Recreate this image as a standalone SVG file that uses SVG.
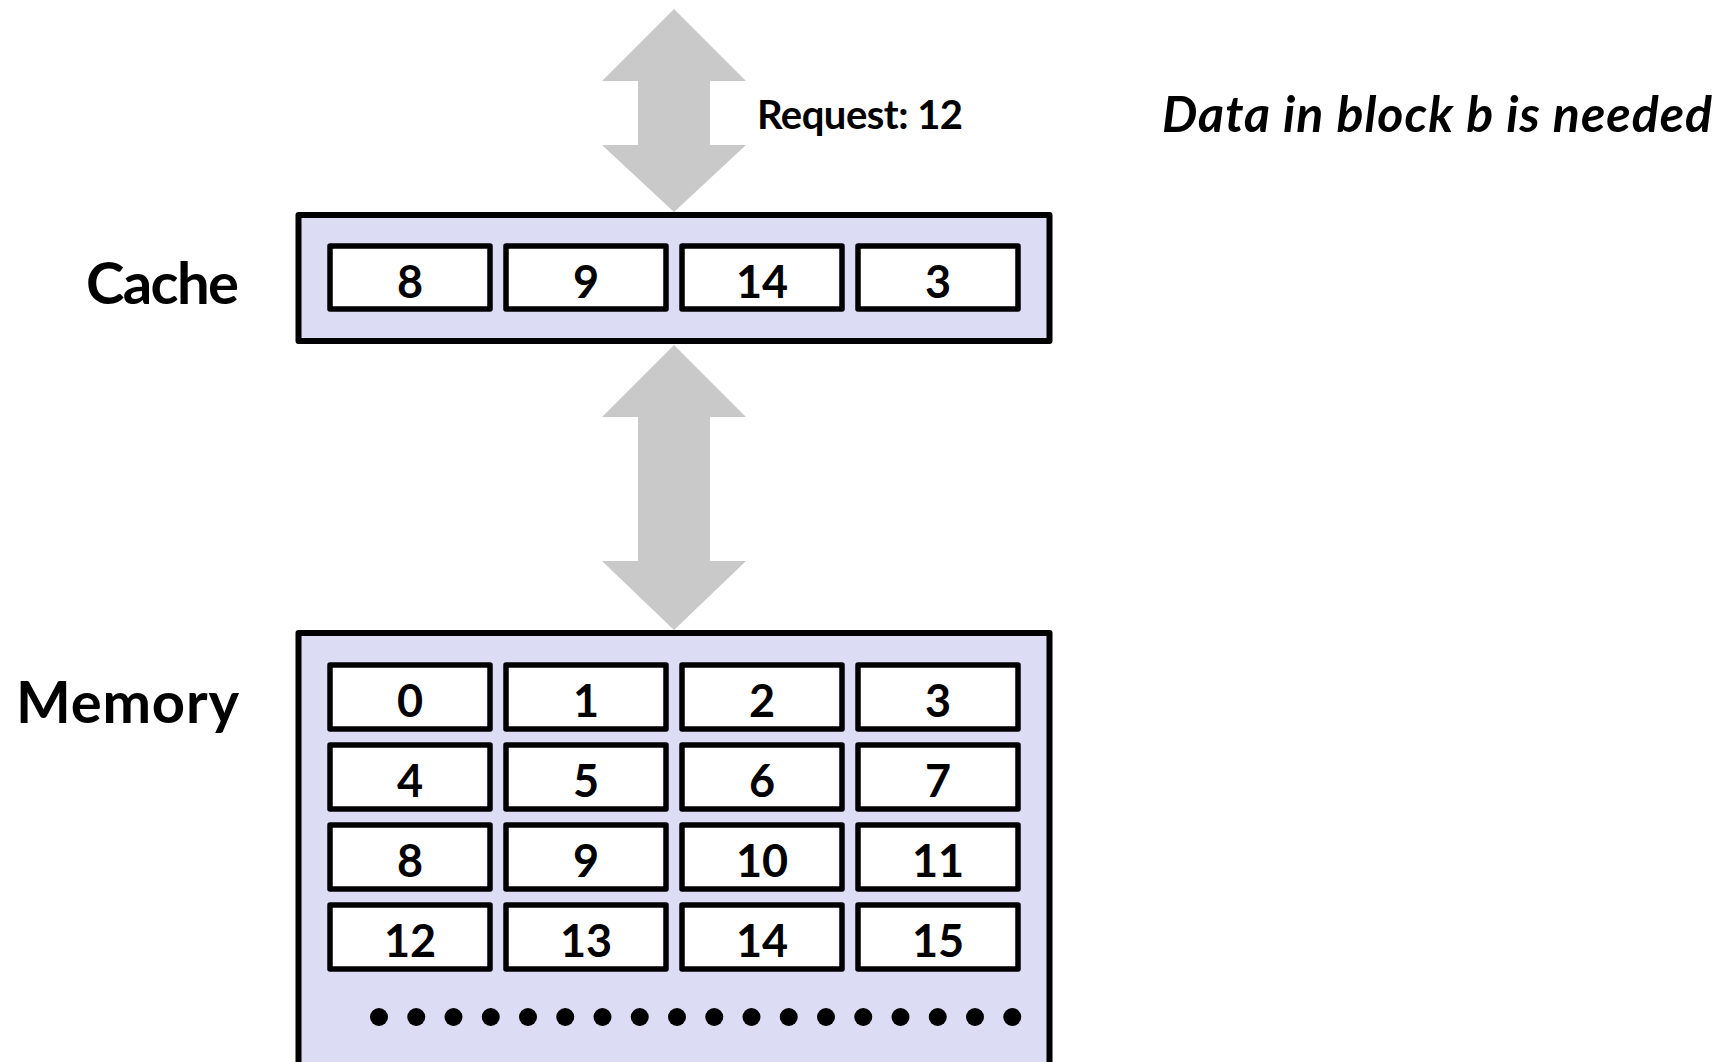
<svg xmlns="http://www.w3.org/2000/svg" width="1730" height="1062" viewBox="0 0 1730 1062">
<style>
.box{fill:#dcdcf4;stroke:#000;stroke-width:6;stroke-linejoin:round}
.cell{fill:#fff;stroke:#000;stroke-width:5.5;stroke-linejoin:round}
.num{font-family:Lato,"Liberation Sans",sans-serif;font-weight:bold;font-size:45px;text-anchor:middle;fill:#000}
.lbl{font-family:Lato,"Liberation Sans",sans-serif;font-weight:bold;font-size:58px;text-anchor:end;fill:#000}
.arrow{fill:#c9c9c9}
.dot{fill:#000}
</style>
<rect width="1730" height="1062" fill="#fff"/>
<g id="connectors">
<polygon class="arrow" points="674,9 746,81 710,81 710,145 746,145 674,212 602,145 638,145 638,81 602,81"/>
<polygon class="arrow" points="674,345 746,417 710,417 710,561 746,561 674,630 602,561 638,561 638,417 602,417"/>
</g>
<g id="request-label">
<text x="757" y="129" font-family="Lato,'Liberation Sans',sans-serif" font-weight="bold" font-size="40" textLength="206">Request: 12</text>
</g>
<g id="note">
<text x="1162" y="132" font-family="Lato,'Liberation Sans',sans-serif" font-weight="bold" font-style="italic" font-size="50" textLength="550">Data in block b is needed</text>
</g>
<g id="cache">
<text class="lbl" x="239" y="304" textLength="153">Cache</text>
<rect class="box" x="298.5" y="215" width="751" height="126"/>
<rect class="cell" x="330" y="246" width="160" height="63"/>
<rect class="cell" x="506" y="246" width="160" height="63"/>
<rect class="cell" x="682" y="246" width="160" height="63"/>
<rect class="cell" x="858" y="246" width="160" height="63"/>
<text class="num" x="410" y="298">8</text>
<text class="num" x="586" y="298">9</text>
<text class="num" x="762" y="298">14</text>
<text class="num" x="938" y="298">3</text>
</g>
<g id="memory">
<text class="lbl" x="239" y="723" textLength="223">Memory</text>
<rect class="box" x="298.5" y="633" width="751" height="500"/>
<rect class="cell" x="330" y="665" width="160" height="64"/>
<rect class="cell" x="506" y="665" width="160" height="64"/>
<rect class="cell" x="682" y="665" width="160" height="64"/>
<rect class="cell" x="858" y="665" width="160" height="64"/>
<rect class="cell" x="330" y="745" width="160" height="64"/>
<rect class="cell" x="506" y="745" width="160" height="64"/>
<rect class="cell" x="682" y="745" width="160" height="64"/>
<rect class="cell" x="858" y="745" width="160" height="64"/>
<rect class="cell" x="330" y="825" width="160" height="64"/>
<rect class="cell" x="506" y="825" width="160" height="64"/>
<rect class="cell" x="682" y="825" width="160" height="64"/>
<rect class="cell" x="858" y="825" width="160" height="64"/>
<rect class="cell" x="330" y="905" width="160" height="64"/>
<rect class="cell" x="506" y="905" width="160" height="64"/>
<rect class="cell" x="682" y="905" width="160" height="64"/>
<rect class="cell" x="858" y="905" width="160" height="64"/>
<text class="num" x="410" y="717">0</text>
<text class="num" x="586" y="717">1</text>
<text class="num" x="762" y="717">2</text>
<text class="num" x="938" y="717">3</text>
<text class="num" x="410" y="797">4</text>
<text class="num" x="586" y="797">5</text>
<text class="num" x="762" y="797">6</text>
<text class="num" x="938" y="797">7</text>
<text class="num" x="410" y="877">8</text>
<text class="num" x="586" y="877">9</text>
<text class="num" x="762" y="877">10</text>
<text class="num" x="938" y="877">11</text>
<text class="num" x="410" y="957">12</text>
<text class="num" x="586" y="957">13</text>
<text class="num" x="762" y="957">14</text>
<text class="num" x="938" y="957">15</text>
<g id="ellipsis">
<circle class="dot" cx="379" cy="1017" r="9"/>
<circle class="dot" cx="416.25" cy="1017" r="9"/>
<circle class="dot" cx="453.5" cy="1017" r="9"/>
<circle class="dot" cx="490.75" cy="1017" r="9"/>
<circle class="dot" cx="528" cy="1017" r="9"/>
<circle class="dot" cx="565.25" cy="1017" r="9"/>
<circle class="dot" cx="602.5" cy="1017" r="9"/>
<circle class="dot" cx="639.75" cy="1017" r="9"/>
<circle class="dot" cx="677" cy="1017" r="9"/>
<circle class="dot" cx="714.25" cy="1017" r="9"/>
<circle class="dot" cx="751.5" cy="1017" r="9"/>
<circle class="dot" cx="788.75" cy="1017" r="9"/>
<circle class="dot" cx="826" cy="1017" r="9"/>
<circle class="dot" cx="863.25" cy="1017" r="9"/>
<circle class="dot" cx="900.5" cy="1017" r="9"/>
<circle class="dot" cx="937.75" cy="1017" r="9"/>
<circle class="dot" cx="975" cy="1017" r="9"/>
<circle class="dot" cx="1012.25" cy="1017" r="9"/>
</g>
</g>
</svg>
